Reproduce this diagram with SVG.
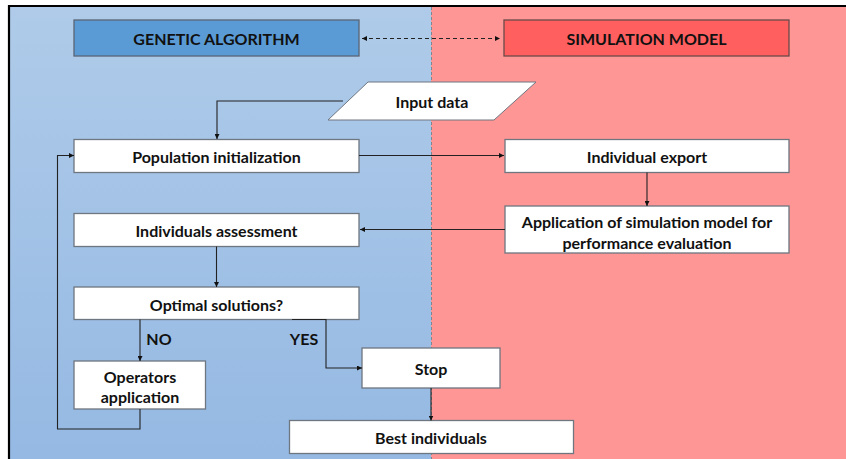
<svg xmlns="http://www.w3.org/2000/svg" width="846" height="459" viewBox="0 0 846 459">
<defs>
<linearGradient id="blueg" x1="0" y1="0" x2="0" y2="1">
<stop offset="0" stop-color="#afcbe9"/>
<stop offset="1" stop-color="#95b9e3"/>
</linearGradient>
<marker id="ah" viewBox="0 0 10 10" refX="10" refY="5" markerWidth="5" markerHeight="5" orient="auto-start-reverse" markerUnits="userSpaceOnUse">
<path d="M0,0 L10,5 L0,10 z" fill="#111"/>
</marker>
<style>
.box{fill:#fff;stroke:#6e7680;stroke-width:1.3}
.t{font-family:Lato,"Open Sans","Liberation Sans",sans-serif;font-weight:bold;font-size:16px;fill:#111;text-anchor:middle;dominant-baseline:central}
.c{fill:none;stroke:#222;stroke-width:1.1}
</style>
</defs>
<rect x="0" y="0" width="846" height="459" fill="#fff"/>
<rect x="9" y="6" width="422" height="453" fill="url(#blueg)"/>
<rect x="431" y="6" width="415" height="453" fill="#ff9696"/>
<line x1="431.5" y1="7" x2="431.5" y2="459" stroke="#7f8890" stroke-width="1" stroke-dasharray="3,2"/>
<line x1="8" y1="6" x2="846" y2="6" stroke="#000" stroke-width="2.2"/>
<line x1="9" y1="5" x2="9" y2="459" stroke="#000" stroke-width="2.2"/>

<g id="genetic-algorithm">
<rect x="74" y="20" width="285" height="36" fill="#5b9bd5" stroke="#5a6575" stroke-width="1.3"/>
<text class="t" x="216.5" y="38.5">GENETIC ALGORITHM</text>
</g>
<g id="simulation-model">
<rect x="504" y="20" width="285" height="36" fill="#ff5f5f" stroke="#6a4a4a" stroke-width="1.3"/>
<text class="t" x="646.5" y="38.5">SIMULATION MODEL</text>
</g>
<g id="input-data">
<polygon points="368,82 536,82 494,120 328,120" fill="#fff" stroke="#6e7680" stroke-width="1"/>
<text class="t" x="432" y="101">Input data</text>
</g>
<g id="population-initialization">
<rect class="box" x="74" y="139.5" width="285" height="33"/>
<text class="t" x="216.5" y="156">Population initialization</text>
</g>
<g id="individual-export">
<rect class="box" x="505" y="139.5" width="284" height="33"/>
<text class="t" x="647" y="156">Individual export</text>
</g>
<g id="application-simulation">
<rect class="box" x="505" y="206" width="284" height="47"/>
<text class="t" x="647" y="221.5">Application of simulation model for</text>
<text class="t" x="647" y="242">performance evaluation</text>
</g>
<g id="individuals-assessment">
<rect class="box" x="74" y="213.5" width="285" height="33"/>
<text class="t" x="216.5" y="230">Individuals assessment</text>
</g>
<g id="optimal-solutions">
<rect class="box" x="74" y="287" width="285" height="32.5"/>
<text class="t" x="216.5" y="304">Optimal solutions?</text>
</g>
<g id="operators-application">
<rect class="box" x="74" y="361" width="131.5" height="48"/>
<text class="t" x="140" y="376.5">Operators</text>
<text class="t" x="140" y="396.5">application</text>
</g>
<g id="stop">
<rect class="box" x="362" y="348" width="138" height="40"/>
<text class="t" x="431" y="368.5">Stop</text>
</g>
<g id="best-individuals">
<rect class="box" x="289.5" y="420.5" width="284" height="33"/>
<text class="t" x="431" y="437.5">Best individuals</text>
</g>

<g id="connectors">
<line class="c" x1="362" y1="38.5" x2="500" y2="38.5" marker-start="url(#ah)" marker-end="url(#ah)" style="stroke-dasharray:4,3"/>
<path class="c" d="M343,101 H217 V139" marker-end="url(#ah)"/>
<path class="c" d="M359,155.5 H504" marker-end="url(#ah)"/>
<path class="c" d="M647,172.5 V206" marker-end="url(#ah)"/>
<path class="c" d="M505,229.5 H360" marker-end="url(#ah)"/>
<path class="c" d="M216.5,246.5 V287" marker-end="url(#ah)"/>
<path class="c" d="M140,319.5 V361" marker-end="url(#ah)"/>
<path class="c" d="M292,319.5 H326 V368 H362" marker-end="url(#ah)"/>
<path class="c" d="M140,409 V429 H57.5 V155.5 H74" marker-end="url(#ah)"/>
<path class="c" d="M431,388 V420.5" marker-end="url(#ah)"/>
<text class="t" x="159" y="338">NO</text>
<text class="t" x="304" y="338">YES</text>
</g>
</svg>
